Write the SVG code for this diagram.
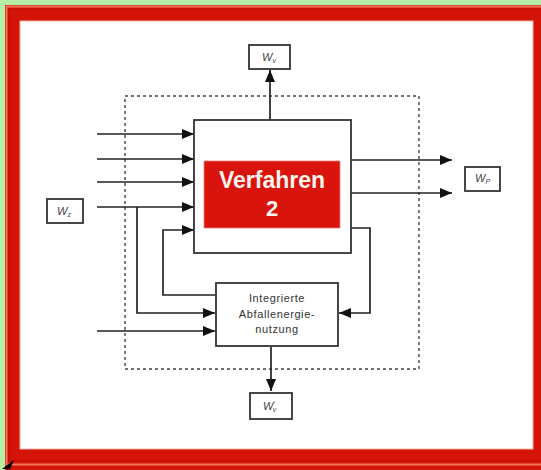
<svg xmlns="http://www.w3.org/2000/svg" width="541" height="470" viewBox="0 0 541 470">
<defs>
<marker id="ah" markerUnits="userSpaceOnUse" markerWidth="13" markerHeight="11" refX="12" refY="5" orient="auto">
<path d="M0,0 L12,5 L0,10 z" fill="#111"/>
</marker>
<style>
.ln{fill:none;stroke:#222;stroke-width:1.7}
.bx{fill:#fff;stroke:#333;stroke-width:1.8}
.lb{font-family:"Liberation Sans",Arial,sans-serif;font-style:italic;font-size:11px;fill:#444}
.sm{font-family:"Liberation Sans",Arial,sans-serif;font-size:11px;fill:#333;text-anchor:middle;letter-spacing:0.6px}
</style>
</defs>
<rect x="0" y="0" width="541" height="470" fill="#b3f0a6"/>
<rect x="5" y="5" width="540" height="465" fill="#d41406"/>
<rect x="6.5" y="6.5" width="540" height="458" fill="none" stroke="#f0785a" stroke-width="2"/>
<rect x="9" y="9" width="540" height="452" fill="none" stroke="#b81004" stroke-width="1"/>
<rect x="20" y="21" width="513" height="428" fill="#fff" stroke="#f4b0a8" stroke-width="1"/>
<polygon points="2,469 14,460 10,469" fill="#000"/>

<g id="system-boundary">
<rect x="125" y="96" width="294" height="273" fill="none" stroke="#444" stroke-width="1.4" stroke-dasharray="3,3"/>
</g>

<g id="connectors">
<path class="ln" d="M270 120 V70" marker-end="url(#ah)"/>
<path class="ln" d="M97 134 H194" marker-end="url(#ah)"/>
<path class="ln" d="M97 159 H194" marker-end="url(#ah)"/>
<path class="ln" d="M97 182 H194" marker-end="url(#ah)"/>
<path class="ln" d="M97 207 H194" marker-end="url(#ah)"/>
<path class="ln" d="M137 207 V313 H215" marker-end="url(#ah)"/>
<path class="ln" d="M215 295 H163 V230 H194" marker-end="url(#ah)"/>
<path class="ln" d="M97 331 H215" marker-end="url(#ah)"/>
<path class="ln" d="M351 228 H370 V313 H339" marker-end="url(#ah)"/>
<path class="ln" d="M351 160 H452" marker-end="url(#ah)"/>
<path class="ln" d="M351 193 H452" marker-end="url(#ah)"/>
<path class="ln" d="M271 347 V391" marker-end="url(#ah)"/>
</g>

<g id="verfahren">
<rect class="bx" x="194" y="120" width="157" height="133"/>
<rect x="204" y="161" width="136" height="67" fill="#d8140c" stroke="#f08080" stroke-width="0.8"/>
<text x="272" y="188" font-family="Liberation Sans,Arial,sans-serif" font-weight="bold" font-size="23" fill="#fff4ee" text-anchor="middle">Verfahren</text>
<text x="272" y="216" font-family="Liberation Sans,Arial,sans-serif" font-weight="bold" font-size="22" fill="#fff4ee" text-anchor="middle">2</text>
</g>

<g id="abfall">
<rect class="bx" x="216" y="283" width="122" height="63"/>
<text class="sm" x="277" y="302">Integrierte</text>
<text class="sm" x="277" y="318">Abfallenergie-</text>
<text class="sm" x="277" y="333">nutzung</text>
</g>

<g id="wv">
<rect class="bx" x="249" y="45" width="41" height="24"/>
<text class="lb" x="262" y="61">W<tspan font-size="7" dy="2">v</tspan></text>
</g>

<g id="wz">
<rect class="bx" x="47" y="199" width="36" height="24"/>
<text class="lb" x="57" y="215">W<tspan font-size="7" dy="2">z</tspan></text>
</g>

<g id="wp">
<rect class="bx" x="465" y="167" width="35" height="24"/>
<text class="lb" x="475" y="182">W<tspan font-size="7" dy="2">P</tspan></text>
</g>

<g id="wv2">
<rect class="bx" x="250" y="393" width="42" height="26"/>
<text class="lb" x="263" y="410">W<tspan font-size="7" dy="-4">'</tspan><tspan font-size="7" dx="-2" dy="6">v</tspan></text>
</g>
</svg>
